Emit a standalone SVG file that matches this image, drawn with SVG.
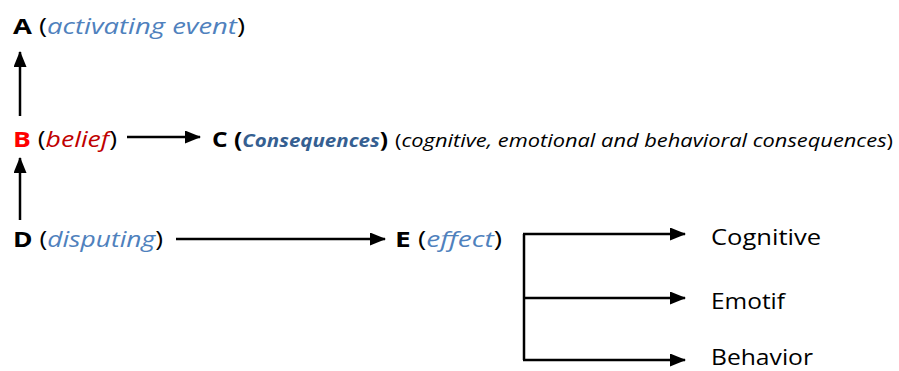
<svg xmlns="http://www.w3.org/2000/svg" width="899" height="371" viewBox="0 0 899 371">
  <style>
    text { font-family: "Open Sans", "Noto Sans", "Liberation Sans", sans-serif; font-size: 21.5px; fill: #000; }
    .key { font-weight: bold; }
    .note { font-style: italic; fill: #4f81bd; }
    .red { fill: #ff0000; font-weight: bold; }
    .darkred { font-style: italic; fill: #c00000; }
    .cons { font-weight: bold; font-style: italic; fill: #365f91; font-size: 18px; }
    .desc { font-size: 19px; }
    .line { stroke: #000; stroke-width: 2.5; fill: none; }
  </style>
  <defs>
    <marker id="head" viewBox="0 0 16 13" refX="15" refY="6.5" markerWidth="16" markerHeight="13" markerUnits="userSpaceOnUse" orient="auto">
      <path d="M0,0 L16,6.5 L0,13 Z" fill="#000"/>
    </marker>
  </defs>

  <!-- nodes -->
  <g id="node-a">
    <text x="13" y="34" textLength="232" lengthAdjust="spacingAndGlyphs"><tspan class="key">A</tspan> (<tspan class="note">activating event</tspan>)</text>
  </g>
  <g id="node-b">
    <text x="13" y="147" textLength="104" lengthAdjust="spacingAndGlyphs"><tspan class="red">B</tspan> (<tspan class="darkred">belief</tspan>)</text>
  </g>
  <g id="node-c">
    <text x="212" y="147" textLength="176" lengthAdjust="spacingAndGlyphs"><tspan class="key">C (</tspan><tspan class="cons">Consequences</tspan><tspan class="key">)</tspan></text>
    <text class="desc" x="395" y="147" textLength="498" lengthAdjust="spacingAndGlyphs">(<tspan font-style="italic">cognitive, emotional and behavioral consequences</tspan>)</text>
  </g>
  <g id="node-d">
    <text x="13" y="247" textLength="150" lengthAdjust="spacingAndGlyphs"><tspan class="key">D</tspan> (<tspan class="note">disputing</tspan>)</text>
  </g>
  <g id="node-e">
    <text x="395" y="247" textLength="107" lengthAdjust="spacingAndGlyphs"><tspan class="key">E</tspan> (<tspan class="note">effect</tspan>)</text>
  </g>
  <g id="node-cognitive">
    <text x="711" y="245" textLength="110" lengthAdjust="spacingAndGlyphs">Cognitive</text>
  </g>
  <g id="node-emotif">
    <text x="711" y="309" textLength="74" lengthAdjust="spacingAndGlyphs">Emotif</text>
  </g>
  <g id="node-behavior">
    <text x="711" y="365" textLength="102" lengthAdjust="spacingAndGlyphs">Behavior</text>
  </g>

  <!-- connectors -->
  <g id="connectors">
    <line class="line" x1="20" y1="116" x2="20" y2="52" marker-end="url(#head)"/>
    <line class="line" x1="20" y1="220" x2="20" y2="158" marker-end="url(#head)"/>
    <line class="line" x1="127" y1="137" x2="200" y2="137" marker-end="url(#head)"/>
    <line class="line" x1="176" y1="239" x2="385" y2="239" marker-end="url(#head)"/>
    <line class="line" x1="524" y1="234" x2="524" y2="360"/>
    <line class="line" x1="523" y1="234" x2="685" y2="234" marker-end="url(#head)"/>
    <line class="line" x1="523" y1="298" x2="685" y2="298" marker-end="url(#head)"/>
    <line class="line" x1="523" y1="360" x2="685" y2="360" marker-end="url(#head)"/>
  </g>
</svg>
